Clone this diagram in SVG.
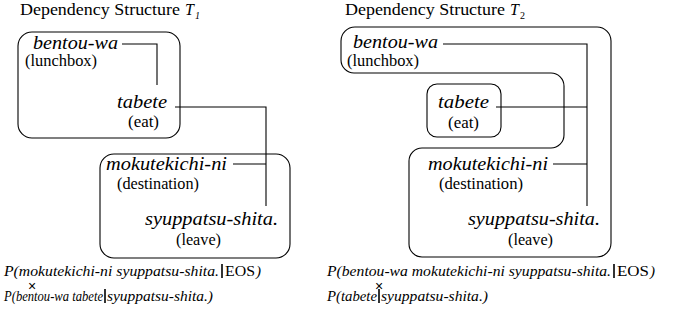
<svg xmlns="http://www.w3.org/2000/svg" width="689" height="331" viewBox="0 0 689 331" font-family="'Liberation Serif', 'Times New Roman', 'DejaVu Serif', serif">
<style>
text{font-family:'Liberation Serif','Times New Roman','DejaVu Serif',serif;fill:#000}
.t{font-size:16px}
.w{font-size:19px;font-style:italic}
.g{font-size:16px}
.f{font-size:15px;font-style:italic}
.u{font-size:15px;font-style:normal}
.x{font-size:14px;font-family:'Liberation Sans',Arial,sans-serif}
.box{fill:none;stroke:#000;stroke-width:1.1}
.c{fill:none;stroke:#000;stroke-width:1.1}
.bar{stroke:#000;stroke-width:1.6}
</style>
<rect width="689" height="331" fill="#fff"/>
<g id="title1"><text class="t" x="20" y="15" textLength="160" lengthAdjust="spacingAndGlyphs">Dependency Structure</text><text class="t" x="185" y="15" font-style="italic">T</text><text x="195" y="19" font-size="10" font-style="italic">1</text></g>
<g id="title2"><text class="t" x="345" y="15" textLength="160" lengthAdjust="spacingAndGlyphs">Dependency Structure</text><text class="t" x="510" y="15" font-style="italic">T</text><text x="520" y="19" font-size="10">2</text></g>

<g id="t1-box1"><rect class="box" x="18" y="32" width="162" height="106" rx="14"/></g>
<g id="t1-box2"><rect class="box" x="100" y="154" width="190" height="104" rx="14"/></g>

<g id="t1-bentou"><text class="w" x="33" y="49" textLength="85" lengthAdjust="spacingAndGlyphs">bentou-wa</text><text class="g" x="25" y="66" textLength="72" lengthAdjust="spacingAndGlyphs">(lunchbox)</text></g>
<g id="t1-tabete"><text class="w" x="117" y="108" textLength="50" lengthAdjust="spacingAndGlyphs">tabete</text><text class="g" x="128" y="127" textLength="31" lengthAdjust="spacingAndGlyphs">(eat)</text></g>
<g id="t1-mokutekichi"><text class="w" x="106" y="170" textLength="121" lengthAdjust="spacingAndGlyphs">mokutekichi-ni</text><text class="g" x="117" y="189" textLength="82" lengthAdjust="spacingAndGlyphs">(destination)</text></g>
<g id="t1-syuppatsu"><text class="w" x="145" y="225" textLength="133" lengthAdjust="spacingAndGlyphs">syuppatsu-shita.</text><text class="g" x="176" y="245" textLength="45" lengthAdjust="spacingAndGlyphs">(leave)</text></g>

<g id="t2-outer"><path class="box" d="M355,27 H597 A14,14 0 0 1 611,41 V243 A14,14 0 0 1 597,257 H422 A13,13 0 0 1 409,244 V161 A13,13 0 0 1 422,148 H551 A13,13 0 0 0 564,135 V86 A13,13 0 0 0 551,73 H354 A13,13 0 0 1 341,60 V41 A14,14 0 0 1 355,27 Z"/></g>
<g id="t2-tabete-box"><rect class="box" x="427" y="84" width="74" height="53" rx="10"/></g>

<g id="t2-bentou"><text class="w" x="353" y="48" textLength="85" lengthAdjust="spacingAndGlyphs">bentou-wa</text><text class="g" x="347" y="66" textLength="72" lengthAdjust="spacingAndGlyphs">(lunchbox)</text></g>
<g id="t2-tabete"><text class="w" x="438" y="108" textLength="51" lengthAdjust="spacingAndGlyphs">tabete</text><text class="g" x="448" y="128" textLength="31" lengthAdjust="spacingAndGlyphs">(eat)</text></g>
<g id="t2-mokutekichi"><text class="w" x="428" y="170" textLength="120" lengthAdjust="spacingAndGlyphs">mokutekichi-ni</text><text class="g" x="439" y="189" textLength="84" lengthAdjust="spacingAndGlyphs">(destination)</text></g>
<g id="t2-syuppatsu"><text class="w" x="468" y="225" textLength="132" lengthAdjust="spacingAndGlyphs">syuppatsu-shita.</text><text class="g" x="508" y="245" textLength="45" lengthAdjust="spacingAndGlyphs">(leave)</text></g>

<g id="connectors">
<polyline class="c" points="122,44 157,44 157,85"/>
<polyline class="c" points="175,107 266,107 266,206"/>
<line class="c" x1="233" y1="164" x2="266" y2="164"/>
<polyline class="c" points="443,44 587,44 587,206"/>
<line class="c" x1="496" y1="107" x2="587" y2="107"/>
<line class="c" x1="553" y1="164" x2="587" y2="164"/>
</g>

<g id="formula1">
<text class="f" x="4" y="276" textLength="215" lengthAdjust="spacingAndGlyphs">P(mokutekichi-ni syuppatsu-shita.</text>
<line class="bar" x1="222" y1="264" x2="222" y2="278"/>
<text class="u" x="225" y="276" textLength="30" lengthAdjust="spacingAndGlyphs">EOS</text>
<text class="f" x="256" y="276">)</text>
<text class="x" x="28" y="291">×</text>
<text class="f" x="4" y="301" textLength="99" lengthAdjust="spacingAndGlyphs">P(bentou-wa tabete</text>
<line class="bar" x1="105" y1="289" x2="105" y2="303"/>
<text class="f" x="107" y="301" textLength="106" lengthAdjust="spacingAndGlyphs">syuppatsu-shita.)</text>
</g>
<g id="formula2">
<text class="f" x="327" y="276" textLength="284" lengthAdjust="spacingAndGlyphs">P(bentou-wa mokutekichi-ni syuppatsu-shita.</text>
<line class="bar" x1="614" y1="264" x2="614" y2="278" stroke-width="1"/>
<text class="u" x="617" y="276" textLength="32" lengthAdjust="spacingAndGlyphs">EOS</text>
<text class="f" x="650" y="276">)</text>
<text class="x" x="375" y="291">×</text>
<text class="f" x="327" y="301" textLength="50" lengthAdjust="spacingAndGlyphs">P(tabete</text>
<line class="bar" x1="379" y1="289" x2="379" y2="303"/>
<text class="f" x="381" y="301" textLength="107" lengthAdjust="spacingAndGlyphs">syuppatsu-shita.)</text>
</g>
</svg>
